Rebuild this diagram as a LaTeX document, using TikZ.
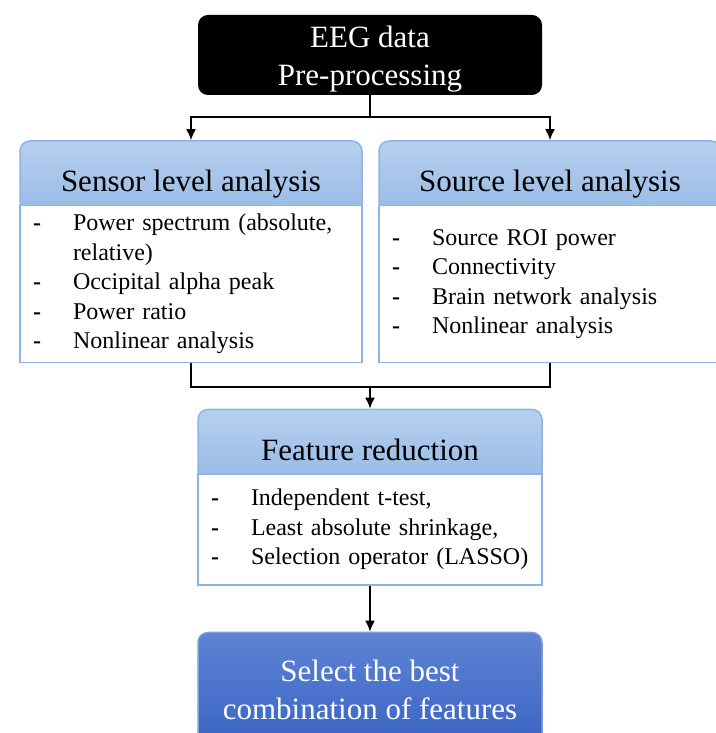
\documentclass[tikz,border=0pt]{standalone}
\usepackage{fontspec}
\setmainfont{Liberation Serif}
\usetikzlibrary{arrows.meta,positioning}

\definecolor{headtop}{HTML}{B6D0EE}
\definecolor{headbot}{HTML}{97B9E5}
\definecolor{boxline}{HTML}{8EB4E3}
\definecolor{besttop}{HTML}{5D83D3}
\definecolor{bestbot}{HTML}{3A64C4}

\newcommand{\dashitem}{\makebox[20pt][l]{\textbf{-}}}

\begin{document}
\begin{tikzpicture}[x=0.5pt,y=0.5pt,
		bigtext/.style={font=\fontsize{15.5}{19}\selectfont},
		head/.style={bigtext,draw=boxline,line width=0.75pt,rounded corners=5pt,
			top color=headtop,bottom color=headbot,minimum width=171pt,
			text height=25.5pt,text depth=12pt,inner ysep=0pt},
		body/.style={draw=boxline,line width=0.75pt,fill=white,inner xsep=6.5pt,
			text width=158pt,align=left,font=\fontsize{12}{14.75}\selectfont},
		flow/.style={line width=1pt,-{Latex[length=5.5pt,width=5pt]}}]
				\clip (0,0) rectangle (716,733);

				\node[bigtext,fill=black,text=white,rounded corners=5pt,align=center,inner ysep=0pt,
					minimum width=172pt,minimum height=40pt] (eeg) at (370,678) {\rule{0pt}{14.5pt}EEG data\\Pre-processing};

				\node[head] (sensorhead) at (191,554.5) {Sensor level analysis};
				\node[body,minimum height=78.5pt] (sensorbody) [below=-6pt of sensorhead]
					{\dashitem Power spectrum (absolute,\\\hspace*{20pt}relative)\\\dashitem Occipital alpha peak\\\dashitem Power ratio\\\dashitem Nonlinear\ analysis};

				\node[head] (sourcehead) at (550,554.5) {Source level analysis};
				\node[body,minimum height=78.5pt] (sourcebody) [below=-6pt of sourcehead]
					{\dashitem Source ROI power\\\dashitem Connectivity\\\dashitem Brain network analysis\\\dashitem Nonlinear\ analysis};

				\node[head,minimum width=172pt] (featurehead) at (370,286) {Feature reduction};
				\node[body,text width=159pt,minimum height=55.5pt] (featurebody) [below=-6pt of featurehead]
					{\dashitem Independent t-test,\\\dashitem Least absolute shrinkage,\\\dashitem Selection operator (LASSO)};

				\node[bigtext,draw=besttop!80!white,line width=0.75pt,top color=besttop,bottom color=bestbot,
					text=white,rounded corners=5pt,align=center,minimum width=172pt,minimum height=57pt]
					(best) [below=23pt of featurebody] {Select the best\\combination of features};

				\coordinate (split) at ([yshift=-11pt]eeg.south);
				\coordinate (merge) at ([yshift=-12pt]featurehead.north |- sensorbody.south);

				\draw[line width=1pt] (eeg.south) -- (split);
				\draw[flow] (split) -| (sensorhead.north);
				\draw[flow] (split) -| (sourcehead.north);
				\draw[line width=1pt] (sensorbody.south) |- (merge) -| (sourcebody.south);
				\draw[flow] (merge) -- (featurehead.north);
				\draw[flow] (featurebody) -- (best);
			\end{tikzpicture}
\end{document}
